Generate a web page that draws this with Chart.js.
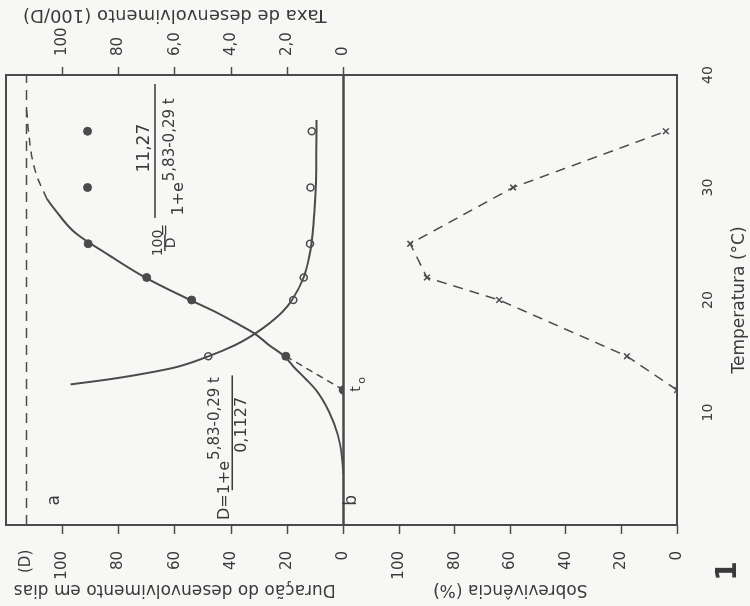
<!DOCTYPE html>
<html>
<head>
<meta charset="utf-8">
<script src="https://cdn.jsdelivr.net/npm/chart.js@4.4.1/dist/chart.umd.min.js"></script>
<style>
  html, body { margin: 0; padding: 0; background: #f7f7f5; overflow: hidden; }
  body { width: 750px; height: 606px; position: relative; }
  /* the figure is drawn upright, then turned a quarter turn like the scan */
  #fig { position: absolute; left: 0; top: 0; width: 606px; height: 750px;
         transform-origin: 0 0; transform: translate(0, 606px) rotate(-90deg); }
  #fig canvas { position: absolute; left: 0; }
  #chartA { top: 0; }
  #chartB { top: 330px; }
</style>
</head>
<body>
<div id="fig">
  <canvas id="chartA" width="606" height="360"></canvas>
  <canvas id="chartB" width="606" height="420"></canvas>
</div>
<script>
// observed points (panel a)
const temps = [15, 20, 22, 25, 30, 35];
const rateObs = [2.05, 5.4, 7.0, 9.08, 9.1, 9.1];          // 100/D
const durationObs = [48.1, 17.9, 14.1, 11.9, 11.7, 11.3];  // D (dias)

// fitted curves
const rateCurveT = [4.5, 6, 8, 10, 12, 13, 14, 15, 16, 17, 18, 19, 20, 22, 24, 26, 28, 29];
const rateCurveR = [0, 0.05, 0.2, 0.5, 0.98, 1.35, 1.75, 2.1, 2.65, 3.15, 3.85, 4.6, 5.45, 7.05, 8.35, 9.55, 10.25, 10.55];
const rateDashT = [29, 31, 33, 35, 37];
const rateDashR = [10.55, 10.9, 11.1, 11.2, 11.27];
const durCurveT = [12.5, 13, 13.5, 14, 15, 16, 17, 18, 19, 20, 22, 24, 26, 28, 30, 33, 36];
const durCurveD = [97, 82, 70, 60, 48, 38.5, 31.5, 26, 21.5, 18.3, 14.2, 12.1, 10.9, 10.3, 9.9, 9.7, 9.6];

const t0 = 12;          // lower threshold
const rateMax = 11.27;  // asymptote

// panel b
const survTemps = [12, 15, 20, 22, 25, 30, 35];
const survival = [0, 18, 64, 90, 96, 59, 4];

// ticks
const durTicks = [0, 20, 40, 60, 80, 100];
const rateTicks = [0, 2, 4, 6, 8, 10];
const rateTickLabels = ["0", "2,0", "4,0", "6,0", "80", "100"];
const survTicks = [0, 20, 40, 60, 80, 100];
const tempTicks = [10, 20, 30, 40];

const INK = "#4b4b4b";
const TXT = "#3a3a3a";
const BG = "#f7f7f5";
const FONT = "'DejaVu Sans', sans-serif";

Chart.defaults.font.family = FONT;
Chart.defaults.color = TXT;

const pts = (xs, ys) => xs.map((x, i) => ({ x: x, y: ys[i] }));
const fixedTicks = (list) => (scale) => { scale.ticks = list.map((v) => ({ value: v })); };
// fixed axis size, and no extra room asked for the end labels
const fitSize = (size) => (s) => {
  if (s.isHorizontal()) s.height = size; else s.width = size;
  s.paddingTop = s.paddingBottom = s.paddingLeft = s.paddingRight = 0;
};

// box around the plot area
const frame = {
  id: "frame",
  beforeDatasetsDraw(chart) {
    const { ctx, chartArea: a } = chart;
    ctx.save();
    ctx.strokeStyle = INK;
    ctx.lineWidth = 2;
    ctx.strokeRect(a.left, a.top, a.right - a.left, a.bottom - a.top);
    ctx.restore();
  },
};

// free text (letters, formulas) placed in data units
function notes(list, axis) {
  return {
    id: "notes",
    afterDatasetsDraw(chart) {
      const ctx = chart.ctx;
      const sx = chart.scales.x;
      const sy = chart.scales[axis];
      ctx.save();
      ctx.fillStyle = TXT;
      ctx.strokeStyle = TXT;
      ctx.textBaseline = "middle";
      list.forEach((n) => {
        const y = sy.getPixelForValue(n.v);
        if (n.bar) {
          ctx.lineWidth = 1.5;
          ctx.beginPath();
          ctx.moveTo(sx.getPixelForValue(n.bar[0]), y);
          ctx.lineTo(sx.getPixelForValue(n.bar[1]), y);
          ctx.stroke();
          return;
        }
        const x = sx.getPixelForValue(n.t);
        ctx.font = (n.bold ? "bold " : "") + n.size + "px " + FONT;
        ctx.textAlign = n.align || "left";
        ctx.fillText(n.text, x, y);
        if (n.sup) {
          const w = ctx.measureText(n.text).width;
          ctx.font = n.supSize + "px " + FONT;
          ctx.textAlign = "left";
          ctx.fillText(n.sup, x + w + 1, y - n.rise);
        }
      });
      if (axis === "yD") {
        // right axis title reads upwards like the left one
        const yr = chart.scales.yR;
        ctx.translate(chart.width - 15, (yr.top + yr.bottom) / 2);
        ctx.rotate(-Math.PI / 2);
        ctx.font = "18px " + FONT;
        ctx.textAlign = "center";
        ctx.fillText("Taxa de desenvolvimento (100/D)", 0, 0);
      }
      ctx.restore();
    },
  };
}

const notesA = [
  { text: "a", t: 2.2, v: 102.7, size: 17, align: "center" },
  { text: "(D)", t: -2.2, v: 113, size: 15, align: "right" },
  // 100/D = 11,27 / (1+e^(5,83-0,29t))
  { text: "100", t: 25.07, v: 66.0, size: 14, align: "center" },
  { bar: [24.35, 25.8], v: 63.5 },
  { text: "D", t: 25.07, v: 61.3, size: 14, align: "center" },
  { text: "=", t: 26.2, v: 63.5, size: 15, align: "center" },
  { bar: [27.3, 39.2], v: 67.0 },
  { text: "11,27", t: 33.5, v: 70.9, size: 17, align: "center" },
  { text: "1+e", t: 27.5, v: 58.5, size: 16, sup: "5,83-0,29 t", supSize: 15, rise: 9 },
  // D = (1+e^(5,83-0,29t)) / 0,1127
  { text: "D=1+e", t: 0.44, v: 42.1, size: 16, sup: "5,83-0,29 t", supSize: 15, rise: 10 },
  { bar: [3.1, 13.3], v: 39.6 },
  { text: "0,1127", t: 8.9, v: 36.1, size: 16, align: "center" },
];

const notesB = [
  { text: "b", t: 2.2, v: 117, size: 17, align: "center" },
  { text: "t", t: 11.85, v: 115.5, size: 14 },
  { text: "o", t: 12.55, v: 113.2, size: 11 },
  { text: "1", t: -4.1, v: -18.7, size: 28, bold: true, align: "center" },
];

const tickGrid = (len) => ({ drawOnChartArea: false, tickLength: len, tickWidth: 1.5, tickColor: INK });

new Chart(document.getElementById("chartA"), {
  type: "line",
  data: {
    datasets: [
      { data: [{ x: 0, y: rateMax }, { x: 40, y: rateMax }], yAxisID: "yR", borderColor: INK, borderWidth: 1.5, borderDash: [10, 7], pointRadius: 0 },
      { data: pts(rateCurveT, rateCurveR), yAxisID: "yR", borderColor: INK, borderWidth: 2, cubicInterpolationMode: "monotone", pointRadius: 0 },
      { data: pts(rateDashT, rateDashR), yAxisID: "yR", borderColor: INK, borderWidth: 1.5, borderDash: [8, 6], cubicInterpolationMode: "monotone", pointRadius: 0 },
      { data: [{ x: t0, y: 0 }, { x: temps[0], y: rateObs[0] }], yAxisID: "yR", borderColor: INK, borderWidth: 1.5, borderDash: [7, 5],
        pointRadius: [4, 0], pointBackgroundColor: INK, pointBorderColor: INK },
      { data: pts(durCurveT, durCurveD), yAxisID: "yD", borderColor: INK, borderWidth: 2, cubicInterpolationMode: "monotone", pointRadius: 0 },
      { data: pts(temps, rateObs), yAxisID: "yR", showLine: false, pointRadius: 4, pointBackgroundColor: INK, pointBorderColor: INK },
      { data: pts(temps, durationObs), yAxisID: "yD", showLine: false, pointRadius: 3.5, pointBackgroundColor: BG, pointBorderColor: INK, pointBorderWidth: 1.5 },
    ],
  },
  options: {
    responsive: false,
    animation: false,
    devicePixelRatio: 1,
    events: [],
    layout: { padding: { top: 6, bottom: 16.5, left: 0, right: 0 } },
    plugins: { legend: { display: false }, tooltip: { enabled: false } },
    scales: {
      x: { type: "linear", min: 0, max: 40, display: false },
      yD: {
        position: "left", min: 0, max: 120,
        afterBuildTicks: fixedTicks(durTicks),
        afterFit: fitSize(81),
        border: { display: false },
        grid: tickGrid(9),
        ticks: { padding: 17, autoSkip: false, font: { size: 15 } },
        title: { display: true, text: "Duração do desenvolvimento em dias", font: { size: 17 }, padding: { top: 6, bottom: 0 } },
      },
      yR: {
        position: "right", min: 0, max: 12,
        afterBuildTicks: fixedTicks(rateTicks),
        afterFit: fitSize(75),
        border: { display: false },
        grid: tickGrid(8),
        ticks: { padding: 11, autoSkip: false, font: { size: 15 }, callback: (v, i) => rateTickLabels[i] },
      },
    },
  },
  plugins: [frame, notes(notesA, "yD")],
});

new Chart(document.getElementById("chartB"), {
  type: "line",
  data: {
    datasets: [
      { data: pts(survTemps, survival), yAxisID: "yS", borderColor: INK, borderWidth: 1.5, borderDash: [10, 7],
        pointStyle: "crossRot", pointRadius: 4, pointBorderWidth: 1.5, pointBorderColor: INK },
    ],
  },
  options: {
    responsive: false,
    animation: false,
    devicePixelRatio: 1,
    events: [],
    layout: { padding: { top: 13.5, bottom: 0, left: 0, right: 75 } },
    plugins: { legend: { display: false }, tooltip: { enabled: false } },
    scales: {
      x: {
        type: "linear", min: 0, max: 40,
        afterBuildTicks: fixedTicks(tempTicks),
        afterFit: fitSize(73),
        border: { display: false },
        grid: { display: false },
        ticks: { padding: 14.5, autoSkip: false, maxRotation: 0, font: { size: 14 } },
        title: { display: true, text: "Temperatura (°C)", font: { size: 17 }, padding: { top: 0, bottom: 0 } },
      },
      yS: {
        position: "left", min: 0, max: 120,
        afterBuildTicks: fixedTicks(survTicks),
        afterFit: fitSize(81),
        border: { display: false },
        grid: tickGrid(9),
        ticks: { padding: 17, autoSkip: false, font: { size: 15 } },
        title: { display: true, text: "Sobrevivência (%)", font: { size: 17 }, padding: { top: 6, bottom: 0 } },
      },
    },
  },
  plugins: [frame, notes(notesB, "yS")],
});
</script>
</body>
</html>
